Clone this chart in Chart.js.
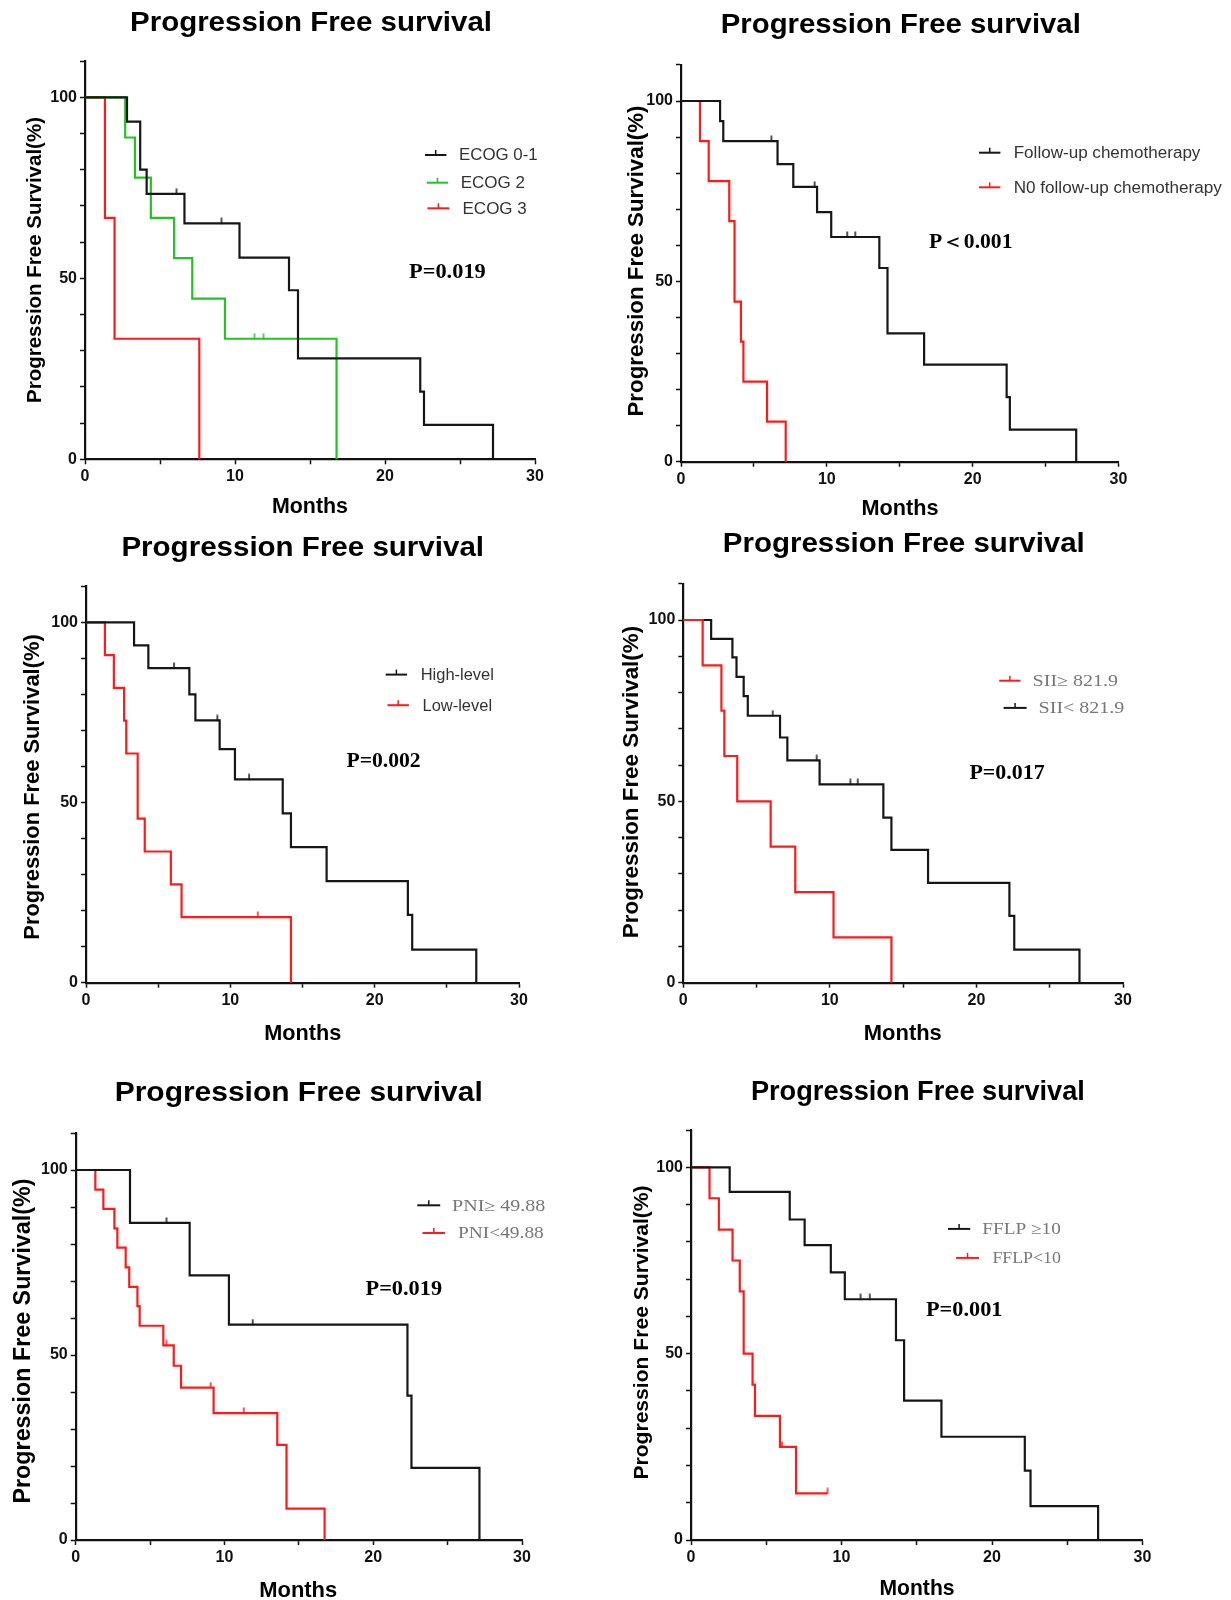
<!DOCTYPE html>
<html>
<head>
<meta charset="utf-8">
<script src="https://cdn.jsdelivr.net/npm/chart.js@4.4.1/dist/chart.umd.min.js"></script>
<style>
html,body{margin:0;padding:0;background:#fff;}
body{width:1231px;height:1600px;position:relative;overflow:hidden;}
canvas{position:absolute;left:0;top:0;}
</style>
</head>
<body>
<script>
// ---------------- DATA ----------------
const xTickLabels = [0, 10, 20, 30];
const yTickLabels = [0, 50, 100];
const panelTitle = 'Progression Free survival';
const yAxisTitle = 'Progression Free Survival(%)';
const xAxisTitle = 'Months';
const pValues = ['P=0.019', 'P\uFF1C0.001', 'P=0.002', 'P=0.017', 'P=0.019', 'P=0.001'];

// Panel 1 : ECOG
const legend1 = ['ECOG 0-1', 'ECOG 2', 'ECOG 3'];
const ecog01Time = [2.8, 3.68, 4.11, 6.63, 10.3, 13.6, 14.2, 22.35, 22.6, 27.2];
const ecog01Surv = [93.3, 80.0, 73.3, 65.2, 55.7, 46.7, 27.9, 18.7, 9.5, 0];
const ecog01Cens = [6.1, 9.1];
const ecog2Time = [2.68, 3.33, 4.39, 5.94, 7.15, 9.33, 16.77];
const ecog2Surv = [88.9, 77.8, 66.7, 55.6, 44.4, 33.3, 0];
const ecog2Cens = [11.3, 11.9];
const ecog3Time = [1.33, 1.97, 7.62];
const ecog3Surv = [66.7, 33.3, 0];
const ecog3Cens = [];

// Panel 2 : follow-up chemotherapy
const legend2 = ['Follow-up chemotherapy', 'N0 follow-up chemotherapy'];
const chemoTime = [2.68, 2.9, 6.62, 7.7, 9.33, 10.3, 13.6, 14.16, 16.67, 22.33, 22.55, 27.1];
const chemoSurv = [94.4, 88.9, 82.5, 76.2, 69.2, 62.3, 53.7, 35.6, 26.9, 17.9, 8.9, 0];
const chemoCens = [6.2, 9.16, 11.4, 11.95];
const noChemoTime = [1.3, 1.9, 3.31, 3.67, 4.11, 4.28, 5.9, 7.18];
const noChemoSurv = [88.9, 77.8, 66.7, 44.4, 33.3, 22.2, 11.1, 0];
const noChemoCens = [];

// Panel 3 : High / Low level
const legend3 = ['High-level', 'Low-level'];
const highTime = [3.33, 4.32, 7.16, 7.58, 9.26, 10.32, 13.63, 14.2, 16.67, 22.3, 22.6, 27.04];
const highSurv = [93.6, 87.3, 80.0, 72.8, 64.8, 56.4, 47.0, 37.6, 28.2, 18.8, 9.2, 0];
const highCens = [6.1, 9.1, 11.3];
const lowTime = [1.31, 1.93, 2.64, 2.79, 3.58, 4.07, 5.88, 6.62, 14.2];
const lowSurv = [90.9, 81.8, 72.7, 63.6, 45.5, 36.4, 27.3, 18.2, 0];
const lowCens = [11.9];

// Panel 4 : SII
const legend4 = ['SII\u2265 821.9', 'SII< 821.9'];
const siiHighTime = [1.32, 2.6, 2.8, 3.68, 5.96, 7.64, 10.25, 14.2];
const siiHighSurv = [87.5, 75.0, 62.5, 50.0, 37.5, 25.0, 12.5, 0];
const siiHighCens = [];
const siiLowTime = [1.9, 3.35, 3.63, 4.12, 4.4, 6.6, 7.1, 9.3, 13.65, 14.2, 16.7, 22.25, 22.58, 27.03];
const siiLowSurv = [94.8, 89.7, 84.3, 79.0, 73.6, 67.6, 61.3, 54.7, 45.5, 36.6, 27.5, 18.4, 9.1, 0];
const siiLowCens = [6.1, 9.1, 11.4, 11.9];

// Panel 5 : PNI
const legend5 = ['PNI\u2265 49.88', 'PNI<49.88'];
const pniHighTime = [3.65, 7.66, 10.3, 22.3, 22.57, 27.14];
const pniHighSurv = [85.7, 71.5, 58.2, 39.0, 19.5, 0];
const pniHighCens = [6.1, 11.9];
const pniLowTime = [1.32, 1.86, 2.6, 2.8, 3.36, 3.6, 4.15, 4.3, 5.89, 6.59, 7.08, 9.27, 13.55, 14.17, 16.73];
const pniLowSurv = [94.7, 89.5, 84.2, 79.0, 73.7, 68.4, 63.2, 57.9, 52.6, 47.1, 41.2, 34.3, 25.7, 8.5, 0];
const pniLowCens = [6.1, 9.07, 11.3];

// Panel 6 : FFLP
const legend6 = ['FFLP \u226510', 'FFLP<10'];
const fflpHighTime = [2.57, 6.56, 7.55, 9.29, 10.22, 13.62, 14.16, 16.64, 22.18, 22.56, 27.05];
const fflpHighSurv = [93.4, 86.0, 79.1, 71.8, 64.6, 53.6, 37.4, 27.7, 18.6, 9.1, 0];
const fflpHighCens = [11.27, 11.88];
const fflpLowTime = [1.23, 1.85, 2.76, 3.24, 3.5, 4.09, 4.25, 5.91, 6.98];
const fflpLowSurv = [91.7, 83.3, 75.0, 66.7, 50.0, 41.7, 33.3, 25.0, 12.5];
const fflpLowCens = [6.05, 9.07];

// ---------------- STYLE / LAYOUT ----------------
const BLACK = '#161616', RED = '#ff1a1a', GREEN = '#22c422';
const SANS = "'Liberation Sans', Arial, sans-serif";
const SERIF = "'Liberation Serif', 'Times New Roman', serif";

const panels = [
  { area: {l: 85, r: 535, y100: 97.3, b: 459.3},
    title: {x: 311, y: 31, w: 362}, yTitle: {x: 35, y: 260, size: 20.5}, xTitle: {x: 310, y: 513, w: 76},
    p: {x: 409, y: 278.3, w: 76.8}, legendFont: SANS, legendColor: '#333',
    series: [
      {t: ecog01Time, s: ecog01Surv, c: ecog01Cens, color: BLACK, label: legend1[0], leg: {x1: 425, x2: 446.4, y: 155, tx: 459, w: 78.6}},
      {t: ecog2Time, s: ecog2Surv, c: ecog2Cens, color: GREEN, label: legend1[1], leg: {x1: 426.8, x2: 448.2, y: 182.7, tx: 460.7, w: 64.3}},
      {t: ecog3Time, s: ecog3Surv, c: ecog3Cens, color: RED, label: legend1[2], leg: {x1: 427.5, x2: 449.3, y: 208.3, tx: 462.5, w: 64.3}}
    ]},
  { area: {l: 681, r: 1118.5, y100: 101, b: 461.7},
    title: {x: 900.8, y: 33.3, w: 360}, yTitle: {x: 636.5, y: 261, size: 22.3}, xTitle: {x: 900, y: 515, w: 77},
    p: {x: 929, y: 248.3, w: 83.5}, legendFont: SANS, legendColor: '#333',
    series: [
      {t: chemoTime, s: chemoSurv, c: chemoCens, color: BLACK, label: legend2[0], leg: {x1: 979, x2: 1000.4, y: 152.7, tx: 1013.7, w: 186.7}},
      {t: noChemoTime, s: noChemoSurv, c: noChemoCens, color: RED, label: legend2[1], leg: {x1: 979, x2: 1000.4, y: 187.3, tx: 1013.7, w: 208}}
    ]},
  { area: {l: 86, r: 519, y100: 622.3, b: 982.7},
    title: {x: 302.7, y: 555.7, w: 362.6}, yTitle: {x: 33.3, y: 787, size: 21.9}, xTitle: {x: 302.7, y: 1040, w: 77},
    p: {x: 346.4, y: 767.4, w: 74.3}, legendFont: SANS, legendColor: '#333',
    series: [
      {t: highTime, s: highSurv, c: highCens, color: BLACK, label: legend3[0], leg: {x1: 385.7, x2: 407.1, y: 674.6, tx: 420.7, w: 73.2}},
      {t: lowTime, s: lowSurv, c: lowCens, color: RED, label: legend3[1], leg: {x1: 387.5, x2: 408.9, y: 705.2, tx: 422.5, w: 69.6}}
    ]},
  { area: {l: 683.3, r: 1123, y100: 620, b: 982.7},
    title: {x: 903.8, y: 552.3, w: 362}, yTitle: {x: 631.7, y: 782, size: 22.4}, xTitle: {x: 902.8, y: 1040, w: 78},
    p: {x: 969.4, y: 778.9, w: 75.3}, legendFont: SERIF, legendColor: '#777',
    series: [
      {t: siiHighTime, s: siiHighSurv, c: siiHighCens, color: RED, label: legend4[0], leg: {x1: 999.2, x2: 1020.5, y: 680.7, tx: 1032.6, w: 93.8}},
      {t: siiLowTime, s: siiLowSurv, c: siiLowCens, color: BLACK, label: legend4[1], leg: {x1: 1003.6, x2: 1026.6, y: 707.9, tx: 1038.6, w: 93.4}}
    ]},
  { area: {l: 75.7, r: 522, y100: 1170, b: 1540},
    title: {x: 298.7, y: 1100.8, w: 368}, yTitle: {x: 23.3, y: 1341, size: 23.3}, xTitle: {x: 298.2, y: 1597, w: 78},
    p: {x: 365.5, y: 1294.6, w: 76.6}, legendFont: SERIF, legendColor: '#777',
    series: [
      {t: pniHighTime, s: pniHighSurv, c: pniHighCens, color: BLACK, label: legend5[0], leg: {x1: 417.3, x2: 440.2, y: 1205.3, tx: 452.1, w: 94.7}},
      {t: pniLowTime, s: pniLowSurv, c: pniLowCens, color: RED, label: legend5[1], leg: {x1: 422.5, x2: 445.1, y: 1233, tx: 458, w: 85.8}}
    ]},
  { area: {l: 691, r: 1142.5, y100: 1167.3, b: 1540},
    title: {x: 917.9, y: 1099.8, w: 334}, yTitle: {x: 641.7, y: 1332.5, size: 21.1}, xTitle: {x: 917, y: 1595, w: 75},
    p: {x: 926, y: 1316, w: 76.4}, legendFont: SERIF, legendColor: '#777',
    series: [
      {t: fflpHighTime, s: fflpHighSurv, c: fflpHighCens, color: BLACK, label: legend6[0], leg: {x1: 948, x2: 970.2, y: 1228.9, tx: 982.3, w: 78.5}},
      {t: fflpLowTime, s: fflpLowSurv, c: fflpLowCens, color: RED, label: legend6[1], leg: {x1: 956.1, x2: 979, y: 1257.9, tx: 992.4, w: 68.4}}
    ]}
];

// ---------------- HELPERS ----------------
function survAt(times, surv, t) {
  let s = 100;
  for (let i = 0; i < times.length; i++) if (times[i] <= t) s = surv[i];
  return s;
}
function curve(times, surv, cens) {
  const pts = [{x: 0, y: 100}];
  times.forEach((t, i) => pts.push({x: t, y: surv[i]}));
  const lastC = cens.length ? Math.max(...cens) : 0;
  if (lastC > times[times.length - 1]) pts.push({x: lastC, y: surv[surv.length - 1]});
  return pts;
}
const tickCache = {};
function tickImg(color) {
  if (tickCache[color]) return tickCache[color];
  const c = document.createElement('canvas');
  c.width = 4; c.height = 12;
  const g = c.getContext('2d');
  g.strokeStyle = color; g.lineWidth = 1.5;
  g.beginPath(); g.moveTo(2, 0.5); g.lineTo(2, 6.5); g.stroke();
  tickCache[color] = c;
  return c;
}
function fitText(ctx, str, x, y, font, color, align, targetW, baseline) {
  ctx.save();
  ctx.font = font; ctx.fillStyle = color;
  ctx.textBaseline = baseline || 'alphabetic';
  ctx.textAlign = align;
  let sx = 1;
  if (targetW) {
    const m = ctx.measureText(str).width;
    sx = Math.max(0.8, Math.min(1.25, targetW / m));
  }
  ctx.translate(x, y); ctx.scale(sx, 1);
  ctx.fillText(str, 0, 0);
  ctx.restore();
}
function drawDecor(ctx, p, idx) {
  fitText(ctx, panelTitle, p.title.x, p.title.y, 'bold 27px ' + SANS, '#000', 'center', p.title.w);
  ctx.save();
  ctx.translate(p.yTitle.x, p.yTitle.y); ctx.rotate(-Math.PI / 2);
  ctx.font = 'bold ' + p.yTitle.size + 'px ' + SANS; ctx.fillStyle = '#000';
  ctx.textAlign = 'center'; ctx.textBaseline = 'middle';
  ctx.fillText(yAxisTitle, 0, 0);
  ctx.restore();
  fitText(ctx, xAxisTitle, p.xTitle.x, p.xTitle.y, 'bold 22px ' + SANS, '#000', 'center', p.xTitle.w);
  fitText(ctx, pValues[idx], p.p.x, p.p.y, 'bold 20px ' + SERIF, '#000', 'left', p.p.w);
  p.series.forEach(s => {
    const L = s.leg;
    ctx.save();
    ctx.strokeStyle = s.color; ctx.lineWidth = 2;
    ctx.beginPath(); ctx.moveTo(L.x1, L.y); ctx.lineTo(L.x2, L.y); ctx.stroke();
    const mx = (L.x1 + L.x2) / 2;
    ctx.lineWidth = 1.5;
    ctx.beginPath(); ctx.moveTo(mx, L.y - 5); ctx.lineTo(mx, L.y); ctx.stroke();
    ctx.restore();
    fitText(ctx, s.label, L.tx, L.y + 1, '16px ' + p.legendFont, p.legendColor, 'left', L.w, 'middle');
  });
}

// ---------------- CHARTS ----------------
const YW = 50, XH = 30;
panels.forEach((p, idx) => {
  const cv = document.createElement('canvas');
  cv.width = 1231; cv.height = 1600;
  document.body.appendChild(cv);
  const a = p.area;
  const top = a.y100 - (a.b - a.y100) * 0.1;
  const datasets = [];
  p.series.forEach(s => {
    datasets.push({type: 'line', data: curve(s.t, s.s, s.c), stepped: true, borderColor: s.color,
      borderWidth: 2.2, pointRadius: 0, fill: false, order: 2, clip: 4});
    if (s.c.length) datasets.push({type: 'scatter', data: s.c.map(t => ({x: t, y: survAt(s.t, s.s, t)})),
      pointStyle: tickImg(s.color), pointRadius: 3, order: 1, clip: 8});
  });
  const tickFont = {family: SANS, size: 16, weight: 'bold'};
  new Chart(cv, {
    type: 'line',
    data: {datasets},
    options: {
      responsive: false, animation: false, events: [],
      layout: {padding: {left: a.l - YW, right: 1231 - a.r, top: top, bottom: 1600 - a.b - XH}},
      plugins: {legend: {display: false}, tooltip: {enabled: false}, title: {display: false}},
      scales: {
        x: {type: 'linear', min: 0, max: 30,
          afterFit: sc => { sc.height = XH; },
          border: {display: true, color: '#111', width: 2.2},
          grid: {drawOnChartArea: false, drawTicks: true, tickLength: 5, tickWidth: 1.5, tickColor: '#111'},
          ticks: {stepSize: 5, autoSkip: false, maxRotation: 0, padding: 3, color: '#111', font: tickFont,
            callback: v => xTickLabels.includes(v) ? String(v) : ''}},
        y: {type: 'linear', min: 0, max: 110,
          afterFit: sc => { sc.width = YW; },
          border: {display: true, color: '#111', width: 2.2},
          grid: {drawOnChartArea: false, drawTicks: true, tickLength: 5, tickWidth: 1.5, tickColor: '#111'},
          ticks: {stepSize: 10, autoSkip: false, padding: 3, color: '#111', font: tickFont,
            callback: v => yTickLabels.includes(v) ? String(v) : ''}}
      }
    },
    plugins: [{id: 'decor' + idx, afterDraw(chart) { drawDecor(chart.ctx, p, idx); }}]
  });
});
</script>
</body>
</html>
